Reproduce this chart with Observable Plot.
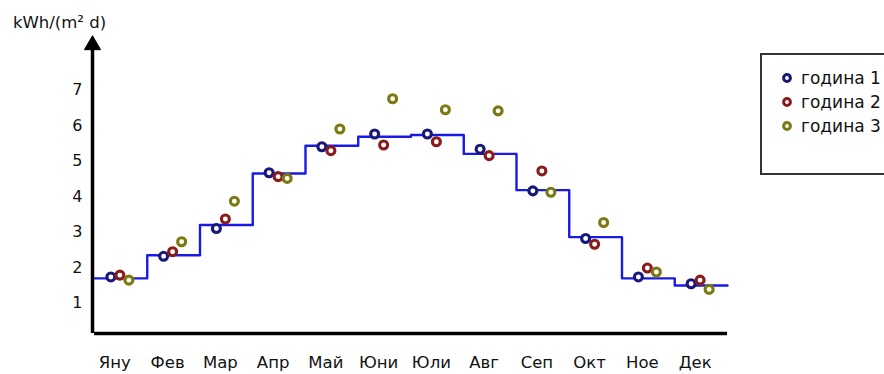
<!DOCTYPE html>
<html>
<head>
<meta charset="utf-8">
<script src="https://cdn.jsdelivr.net/npm/d3@7"></script>
<script src="https://cdn.jsdelivr.net/npm/@observablehq/plot@0.6"></script>
<style>
  html, body { margin: 0; padding: 0; background: #fff; }
  #wrap { position: relative; width: 884px; height: 374px; overflow: hidden; font-family: "DejaVu Sans", sans-serif; color: #111; }
  #legend { position: absolute; left: 760px; top: 53px; width: 150px; height: 122px; border: 2px solid #333; box-sizing: border-box; background: #fff; }
  #legend .row { position: absolute; left: 0; display: flex; align-items: center; font-size: 17px; white-space: nowrap; }
  #legend svg { margin-left: 19px; margin-right: 8px; }
</style>
</head>
<body>
<div id="wrap">
  <div id="chart"></div>
  <div id="legend"></div>
</div>
<script>
// Month labels (Bulgarian abbreviations)
const months = ["Яну", "Фев", "Мар", "Апр", "Май", "Юни", "Юли", "Авг", "Сеп", "Окт", "Ное", "Дек"];

// Long-term monthly average irradiation, kWh/(m² d) — drawn as a step line
const average = [1.70, 2.35, 3.20, 4.65, 5.43, 5.68, 5.73, 5.20, 4.18, 2.86, 1.70, 1.50];

// Measured monthly values for three years
const year1 = [1.74, 2.32, 3.10, 4.67, 5.40, 5.76, 5.76, 5.33, 4.16, 2.82, 1.74, 1.55];
const year2 = [1.79, 2.45, 3.37, 4.56, 5.29, 5.45, 5.54, 5.15, 4.72, 2.66, 1.99, 1.65];
const year3 = [1.65, 2.73, 3.87, 4.51, 5.90, 6.75, 6.44, 6.41, 4.12, 3.27, 1.88, 1.39];

const seriesNames = ["година 1", "година 2", "година 3"];
const yTicks = [1, 2, 3, 4, 5, 6, 7];
const yUnit = "kWh/(m² d)";

const colors = ["#18187a", "#8a1b1b", "#7a7a10"];
const offsets = [-10, -1, 8];

// Step line: one point per month start, plus the end of December
const steps = average.map((v, i) => ({x: i, y: v}));
steps.push({x: 12, y: average[average.length - 1]});

const yearSeries = [year1, year2, year3];
const dotMarks = yearSeries.map((vals, s) =>
  Plot.dot(vals.map((v, i) => ({x: i + 0.5, y: v})), {
    x: "x", y: "y", dx: offsets[s], r: 4, fill: "white",
    stroke: colors[s], strokeWidth: 3.1
  })
);

const yBottom = 0.15;
const yArrow = 8.26;

const chart = Plot.plot({
  width: 884,
  height: 374,
  marginLeft: 94,
  marginRight: 157,
  marginTop: 36,
  marginBottom: 41,
  style: {fontFamily: "DejaVu Sans, sans-serif", color: "#111", background: "white"},
  x: {domain: [0, 12]},
  y: {domain: [yBottom, 8.5]},
  marks: [
    Plot.axisY({ticks: yTicks, tickSize: 0, tickPadding: 12, fontSize: 16, label: null}),
    Plot.axisX({
      ticks: d3.range(12).map(i => i + 0.5),
      tickFormat: d => months[Math.floor(d)],
      tickSize: 0, tickPadding: 23, dx: -6, fontSize: 16.5, label: null
    }),
    Plot.line(steps, {x: "x", y: "y", curve: "step-after", stroke: "#1a1ae6", strokeWidth: 2.4}),
    ...dotMarks,
    Plot.ruleY([yBottom], {stroke: "#000", strokeWidth: 3.5}),
    Plot.ruleX([0], {y1: yBottom, y2: yArrow, dx: -2, stroke: "#000", strokeWidth: 3.5}),
    Plot.dot([yArrow], {x: () => 0, y: d => d, dx: -2, symbol: "triangle", r: 6, fill: "#000", stroke: "#000", strokeWidth: 1}),
    Plot.text([yUnit], {frameAnchor: "top-left", textAnchor: "middle", lineAnchor: "middle", dx: -35, dy: -14, text: d => d, fontSize: 16.5, fill: "#111"})
  ]
});
document.getElementById("chart").appendChild(chart);

// Legend box with ring markers
const legend = document.getElementById("legend");
seriesNames.forEach((name, s) => {
  const row = document.createElement("div");
  row.className = "row";
  row.style.top = (13 + s * 24) + "px";
  row.innerHTML = `<svg width="12" height="12"><circle cx="6" cy="6" r="3.4" fill="white" stroke="${colors[s]}" stroke-width="3"/></svg><span>${name}</span>`;
  legend.appendChild(row);
});
</script>
</body>
</html>
